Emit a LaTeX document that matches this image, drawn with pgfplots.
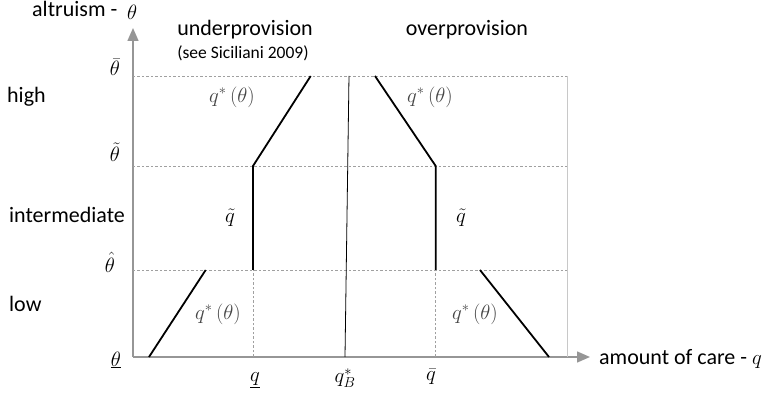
\documentclass[border=0pt]{standalone}
\usepackage{fontspec}
\setmainfont{Carlito}
\usepackage{pgfplots}
\pgfplotsset{compat=1.18}
\usetikzlibrary{arrows.meta}
\definecolor{axgray}{RGB}{150,150,150}
\definecolor{dashgray}{RGB}{160,160,160}
\definecolor{bordergray}{RGB}{200,200,200}
\definecolor{mathgray}{RGB}{70,70,70}
\begin{document}
\begin{tikzpicture}
\begin{axis}[
  x=1pt, y=1pt,
  xmin=0, xmax=457, ymin=0, ymax=329,
  enlargelimits=false,
  axis lines=left,
  axis line style={axgray, line width=1.5pt, -{Triangle[length=13pt,width=11pt]}},
  xtick=\empty, ytick=\empty,
  clip=false,
]
% bounding box
\path (axis cs:-133,-38) rectangle (axis cs:636,357);
% grid / guides
\addplot[dashgray, line width=0.6pt, dash pattern=on 2.5pt off 2pt] coordinates {(0,281) (434.7,281)};
\addplot[dashgray, line width=0.6pt, dash pattern=on 2.5pt off 2pt] coordinates {(0,191) (434.7,191)};
\addplot[dashgray, line width=0.6pt, dash pattern=on 2.5pt off 2pt] coordinates {(0,87) (434.7,87)};
\addplot[dashgray, line width=0.6pt, dash pattern=on 2.5pt off 2pt] coordinates {(120,0) (120,87)};
\addplot[dashgray, line width=0.6pt, dash pattern=on 2.5pt off 2pt] coordinates {(302.7,0) (302.7,87)};
\addplot[bordergray, line width=1pt] coordinates {(434.7,0) (434.7,281)};
% q_B^* line
\addplot[black, line width=0.8pt] coordinates {(212,0) (216,281)};
% underprovision
\addplot[black, line width=1.8pt] coordinates {(16,0) (72.7,87)};
\addplot[black, line width=1.8pt] coordinates {(120,87) (120,191) (177.7,281)};
% overprovision
\addplot[black, line width=1.8pt] coordinates {(242,281) (302.7,191) (302.7,87)};
\addplot[black, line width=1.8pt] coordinates {(347,87) (416,0)};
% texts
\node[anchor=base west, inner sep=0pt, font=\fontsize{22}{24}\selectfont] at (axis cs:-101,340) {altruism -};
\node[anchor=base west, inner sep=0pt, font=\fontsize{20}{22}\selectfont] at (axis cs:-6,337) {$\theta$};
\node[anchor=base, font=\fontsize{22}{24}\selectfont] at (axis cs:112,321) {underprovision};
\node[anchor=base, font=\fontsize{17.5}{19}\selectfont] at (axis cs:110,298) {(see Siciliani 2009)};
\node[anchor=base, font=\fontsize{22}{24}\selectfont] at (axis cs:334,321) {overprovision};
\node[anchor=base west, inner sep=0pt, font=\fontsize{22}{24}\selectfont] at (axis cs:-126,254) {high};
\node[anchor=base west, inner sep=0pt, font=\fontsize{22}{24}\selectfont] at (axis cs:-124,134) {intermediate};
\node[anchor=base west, inner sep=0pt, font=\fontsize{22}{24}\selectfont] at (axis cs:-124,45) {low};
\node[anchor=base west, inner sep=0pt, font=\fontsize{22}{24}\selectfont] at (axis cs:466,-8) {amount of care - $q$};
% y labels
\node[font=\fontsize{20}{22}\selectfont] at (axis cs:-18,290) {$\bar{\theta}$};
\node[font=\fontsize{20}{22}\selectfont] at (axis cs:-18,205) {$\tilde{\theta}$};
\node[font=\fontsize{20}{22}\selectfont] at (axis cs:-23,94.5) {$\hat{\theta}$};
\node[font=\fontsize{20}{22}\selectfont] at (axis cs:-17,-3) {$\underline{\theta}$};
% x labels
\node[font=\fontsize{20}{22}\selectfont] at (axis cs:122,-23) {$\underline{q}$};
\node[font=\fontsize{20}{22}\selectfont] at (axis cs:212,-21) {$q_B^{*}$};
\node[font=\fontsize{20}{22}\selectfont] at (axis cs:298,-20) {$\bar{q}$};
% curve labels
\node[mathgray, font=\fontsize{19.5}{21}\selectfont] at (axis cs:99,260) {$q^{*}\,(\theta)$};
\node[mathgray, font=\fontsize{19.5}{21}\selectfont] at (axis cs:297,260) {$q^{*}\,(\theta)$};
\node[mathgray, font=\fontsize{19.5}{21}\selectfont] at (axis cs:85,43) {$q^{*}\,(\theta)$};
\node[mathgray, font=\fontsize{19.5}{21}\selectfont] at (axis cs:342,43) {$q^{*}\,(\theta)$};
\node[font=\fontsize{20}{22}\selectfont] at (axis cs:97,139) {$\tilde{q}$};
\node[font=\fontsize{20}{22}\selectfont] at (axis cs:328,139) {$\tilde{q}$};
\end{axis}
\end{tikzpicture}
\end{document}
